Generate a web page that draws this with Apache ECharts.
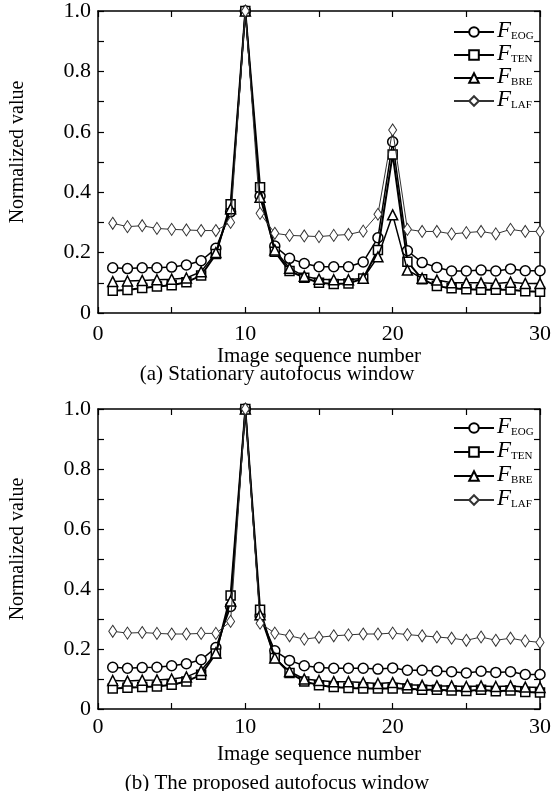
<!DOCTYPE html>
<html>
<head>
<meta charset="utf-8">
<script src="https://cdn.jsdelivr.net/npm/echarts@6/dist/echarts.min.js"></script>
<style>html,body{margin:0;padding:0;background:#fff}#c{width:554px;height:791px}</style>
</head>
<body>
<div id="c"></div>
<script>
// ---- data ----
const imageIndex = [1,2,3,4,5,6,7,8,9,10,11,12,13,14,15,16,17,18,19,20,21,22,23,24,25,26,27,28,29,30];
const seriesNames = ['EOG','TEN','BRE','LAF'];
const xTicks = [0,10,20,30];
const yTicks = [0,0.2,0.4,0.6,0.8,1.0];
const captions = ['(a) Stationary autofocus window','(b) The proposed autofocus window'];
const xTitle = 'Image sequence number';
const yTitle = 'Normalized value';

// (a) stationary window
const eogA = [0.150,0.147,0.150,0.150,0.152,0.159,0.173,0.214,0.335,1.0,0.387,0.222,0.181,0.164,0.153,0.153,0.153,0.169,0.249,0.567,0.206,0.167,0.151,0.139,0.139,0.142,0.139,0.146,0.140,0.140];
const tenA = [0.074,0.076,0.083,0.088,0.092,0.102,0.124,0.195,0.360,1.0,0.416,0.203,0.139,0.117,0.100,0.096,0.098,0.114,0.209,0.525,0.170,0.112,0.089,0.082,0.079,0.077,0.077,0.077,0.072,0.070];
const breA = [0.104,0.106,0.108,0.110,0.112,0.116,0.137,0.200,0.345,1.0,0.383,0.209,0.148,0.122,0.112,0.110,0.110,0.115,0.186,0.325,0.142,0.115,0.109,0.100,0.100,0.100,0.098,0.102,0.098,0.098];
const lafA = [0.297,0.286,0.289,0.280,0.277,0.275,0.273,0.273,0.300,1.0,0.330,0.264,0.257,0.255,0.253,0.257,0.260,0.271,0.327,0.606,0.277,0.270,0.270,0.262,0.266,0.270,0.262,0.277,0.270,0.270];
// (b) proposed window
const eogB = [0.139,0.136,0.138,0.139,0.144,0.151,0.164,0.205,0.342,1.0,0.310,0.194,0.162,0.144,0.138,0.136,0.136,0.136,0.133,0.137,0.129,0.129,0.127,0.124,0.120,0.126,0.122,0.124,0.115,0.115];
const tenB = [0.068,0.071,0.073,0.075,0.081,0.092,0.114,0.185,0.378,1.0,0.331,0.170,0.120,0.092,0.079,0.073,0.070,0.068,0.068,0.068,0.068,0.064,0.064,0.062,0.060,0.064,0.059,0.062,0.057,0.055];
const breB = [0.095,0.093,0.096,0.097,0.100,0.107,0.128,0.187,0.360,1.0,0.314,0.170,0.125,0.100,0.095,0.091,0.091,0.088,0.085,0.088,0.081,0.079,0.077,0.077,0.075,0.077,0.075,0.077,0.073,0.072];
const lafB = [0.259,0.253,0.255,0.252,0.250,0.250,0.252,0.252,0.292,1.0,0.286,0.253,0.244,0.233,0.239,0.244,0.247,0.250,0.250,0.253,0.248,0.244,0.240,0.236,0.229,0.240,0.229,0.236,0.227,0.222];

// ---- styles ----
const FONT = '"Liberation Serif", "Times New Roman", serif';
const styles = {
  EOG: {symbol:'circle', symbolSize:10, lw:1.5, color:'#000', bw:1.5},
  TEN: {symbol:'rect', symbolSize:9, lw:2, color:'#000', bw:1.5},
  BRE: {symbol:'triangle', symbolSize:10, lw:1.5, color:'#000', bw:1.5},
  LAF: {symbol:'diamond', symbolSize:[8,12], lw:1, color:'#333', bw:1}
};

const grids = [
  {left:94, top:11, width:452, height:302},
  {left:94, top:409, width:452, height:300}
];
const legendTops = [19, 415];
const legendGaps = [0, 1];
const dataSets = [[eogA,tenA,breA,lafA],[eogB,tenB,breB,lafB]];

const xAxes = [], yAxes = [], series = [], legends = [];
const axisLineStyle = {color:'#000', width:1.5};
grids.forEach((g, gi) => {
  xAxes.push({
    gridIndex: gi, type:'value', min:0, max:30, interval:5,
    axisLine:{show:true, onZero:false, lineStyle:axisLineStyle},
    axisTick:{show:true, inside:true, length:6, lineStyle:{color:'#000', width:1.2}},
    splitLine:{show:false},
    axisLabel:{margin: gi===0 ? 10 : 7, color:'#000', fontFamily:FONT, fontSize:22,
      formatter: v => xTicks.indexOf(v) >= 0 ? String(v) : ''},
    name: xTitle, nameLocation:'middle', nameGap: gi===0 ? 31 : 35,
    nameTextStyle:{color:'#000', fontFamily:FONT, fontSize:21}
  });
  xAxes.push({
    gridIndex: gi, type:'value', min:0, max:30, interval:5, position:'top',
    axisLine:{show:true, onZero:false, lineStyle:axisLineStyle},
    axisTick:{show:true, inside:true, length:6, lineStyle:{color:'#000', width:1.2}},
    splitLine:{show:false}, axisLabel:{show:false}
  });
  yAxes.push({
    gridIndex: gi, type:'value', min:0, max:1, interval:0.1,
    axisLine:{show:true, onZero:false, lineStyle:axisLineStyle},
    axisTick:{show:true, inside:true, length:6, lineStyle:{color:'#000', width:1.2}},
    splitLine:{show:false},
    axisLabel:{margin:7, color:'#000', fontFamily:FONT, fontSize:22,
      formatter: v => {
        const r = Math.round(v*10)/10;
        const hit = yTicks.some(t => Math.abs(t - r) < 1e-9);
        if (!hit) return '';
        return r === 0 ? '0' : r.toFixed(1);
      }},
    name: yTitle, nameLocation:'middle', nameGap:70, nameRotate:90,
    nameTextStyle:{color:'#000', fontFamily:FONT, fontSize:20, padding:[0,0,0,20]}
  });
  yAxes.push({
    gridIndex: gi, type:'value', min:0, max:1, interval:0.1, position:'right',
    axisLine:{show:true, onZero:false, lineStyle:axisLineStyle},
    axisTick:{show:true, inside:true, length:6, lineStyle:{color:'#000', width:1.2}},
    splitLine:{show:false}, axisLabel:{show:false}
  });
  seriesNames.forEach((nm, si) => {
    const st = styles[nm];
    const vals = dataSets[gi][si];
    series.push({
      name: nm, type:'line', xAxisIndex: gi*2, yAxisIndex: gi*2,
      data: imageIndex.map((x, i) => [x, vals[i]]),
      symbol: st.symbol, symbolSize: st.symbolSize, showAllSymbol:true,
      lineStyle:{color:st.color, width:st.lw},
      itemStyle:{color:'#fff', borderColor:st.color, borderWidth:st.bw},
      emphasis:{disabled:true}, animation:false, z: 2 + si
    });
  });
  legends.push({
    orient:'vertical', left:453, top: legendTops[gi], padding:0,
    itemWidth:40, itemHeight:12, itemGap:legendGaps[gi],
    data: seriesNames.slice(),
    selectedMode:false,
    formatter: nm => '{f|F}{s|' + nm + '}',
    textStyle:{
      color:'#000', padding:[0,0,0,-2], width:80, overflow:'none',
      rich:{
        f:{fontFamily:FONT, fontStyle:'italic', fontSize:23, lineHeight:20, color:'#000', verticalAlign:'bottom'},
        s:{fontFamily:FONT, fontSize:11, lineHeight:20, color:'#000', verticalAlign:'bottom'}
      }
    }
  });
});

const chart = echarts.init(document.getElementById('c'), null, {renderer:'canvas'});
chart.setOption({
  backgroundColor:'#fff',
  animation:false,
  grid: grids,
  xAxis: xAxes,
  yAxis: yAxes,
  legend: legends,
  series: series,
  graphic: [
    {type:'text', left:'center', top:364, style:{text:captions[0], fontFamily:FONT, fontSize:21, fill:'#000'}},
    {type:'text', left:'center', top:773, style:{text:captions[1], fontFamily:FONT, fontSize:21, fill:'#000'}}
  ]
});
</script>
</body>
</html>
